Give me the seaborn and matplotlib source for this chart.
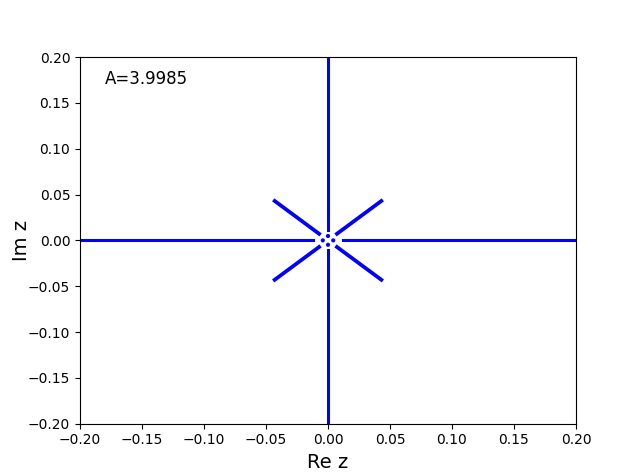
import numpy as np
import pandas as pd
import matplotlib
matplotlib.use("Agg")
import matplotlib.pyplot as plt
import seaborn as sns

# Branch segments of the eigenvalue spectrum (start/end points)
seg_id  = ["h_left", "h_right", "v_down", "v_up", "d_ur", "d_ul", "d_lr", "d_ll"]
x_start = [-0.25, 0.012, 0.0, 0.0, 0.0072, -0.0072, 0.0072, -0.0072]
x_end   = [-0.012, 0.25, 0.0, 0.0, 0.043, -0.043, 0.043, -0.043]
y_start = [0.0, 0.0, -0.011, 0.011, 0.0072, 0.0072, -0.0072, -0.0072]
y_end   = [0.0, 0.0, -0.25, 0.25, 0.043, 0.043, -0.043, -0.043]
seg_width = [2.2, 2.2, 2.2, 2.2, 2.7, 2.7, 2.7, 2.7]

# isolated points near origin
dot_x = [-0.0042, 0.0042, 0.0, 0.0]
dot_y = [0.0, 0.0, 0.0048, -0.0048]

label_text = "A=3.9985"

rows = []
for s, x0, x1, y0, y1 in zip(seg_id, x_start, x_end, y_start, y_end):
    rows.append({"seg": s, "order": 0, "x": x0, "y": y0})
    rows.append({"seg": s, "order": 1, "x": x1, "y": y1})
df = pd.DataFrame(rows)
dots = pd.DataFrame({"x": dot_x, "y": dot_y})

fig, ax = plt.subplots(figsize=(6.4, 4.76), dpi=100)
for s, lw in zip(seg_id, seg_width):
    sns.lineplot(data=df[df["seg"] == s], x="x", y="y", estimator=None, sort=False,
                 color="#0000ff", linewidth=lw, ax=ax)
sns.scatterplot(data=dots, x="x", y="y", color="#0000ff", s=9, edgecolor="none", ax=ax)

ax.set_xlim(-0.2, 0.2)
ax.set_ylim(-0.2, 0.2)
ax.set_xticks(np.arange(-0.2, 0.2001, 0.05))
ax.set_yticks(np.arange(-0.2, 0.2001, 0.05))
ax.set_xlabel("Re z", fontsize=14)
ax.set_ylabel("Im z", fontsize=14, labelpad=-2.5)
ax.text(0.05, 0.94, label_text, transform=ax.transAxes, fontsize=12, va="center", ha="left")

fig.savefig("out.png", dpi=100)
